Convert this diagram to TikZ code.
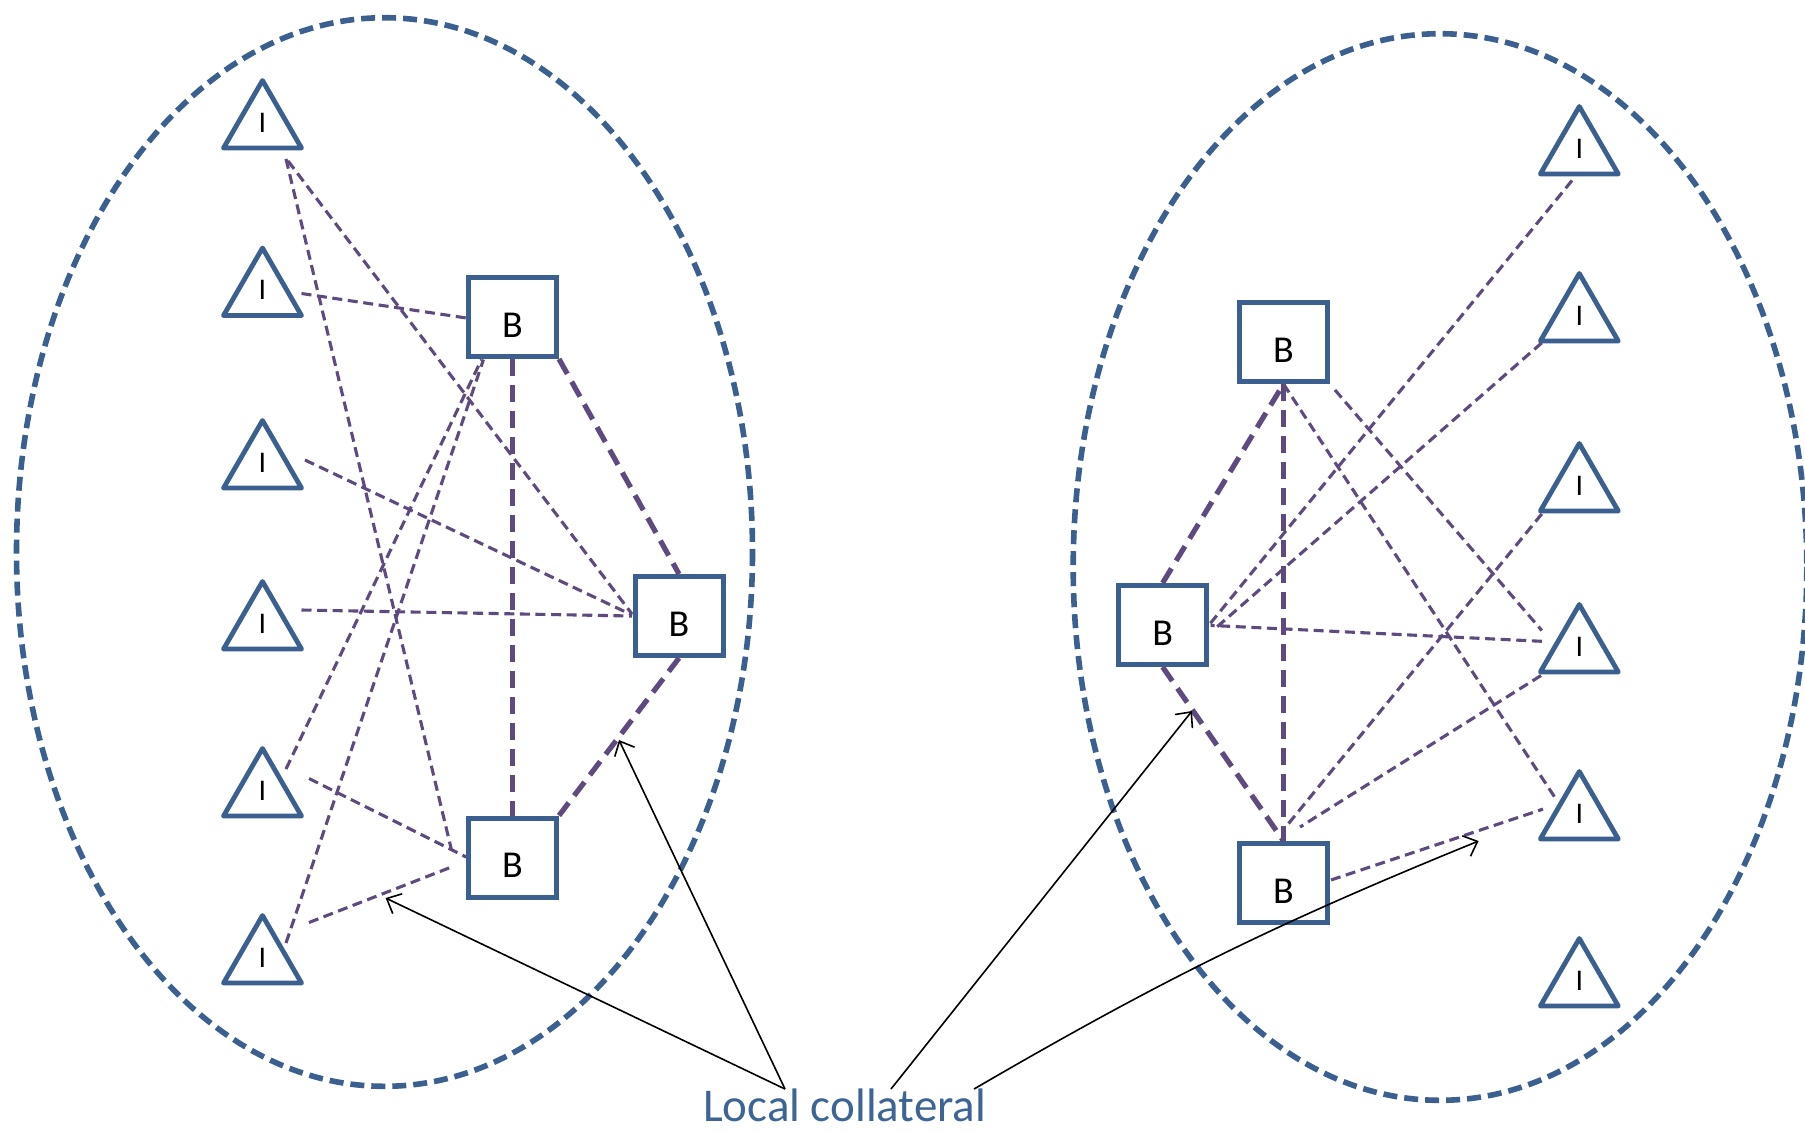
\documentclass[tikz,border=0pt]{standalone}
\usepackage{fontspec}
\setmainfont{Carlito}
\usetikzlibrary{shapes.geometric,arrows.meta}
\definecolor{shapeblue}{RGB}{59,96,143}
\definecolor{linkpurple}{RGB}{94,74,126}
\definecolor{textblue}{RGB}{62,100,150}
\begin{document}
\begin{tikzpicture}[x=0.5pt,y=-0.5pt,
  group/.style={draw=shapeblue, line width=2.8pt, dash pattern=on 7pt off 3.5pt},
  bbox/.style={draw=shapeblue, line width=2.5pt, rectangle, minimum width=44pt, minimum height=39.5pt, inner sep=0pt,
    label={[font=\fontsize{19}{19}\selectfont, yshift=-4pt]center:B}},
  tri/.style={draw=shapeblue, line width=2.4pt, line join=round, regular polygon, regular polygon sides=3, minimum size=45pt, inner sep=0pt,
    label={[font=\fontsize{15}{15}\selectfont, yshift=1.5pt]center:I}},
  link/.style={draw=linkpurple, line width=1.55pt, dash pattern=on 5pt off 2.8pt},
  strong/.style={draw=linkpurple, line width=2.6pt, dash pattern=on 8.5pt off 4.5pt},
  callout/.style={draw=black, line width=0.8pt, -{Straight Barb[length=6pt,width=11pt]}}
]
\clip (0,0) rectangle (1805,1132);
\fill[white] (0,0) rectangle (1805,1132);

% group outlines
\draw[group] (384.5,552) ellipse [x radius=368, y radius=534.3];
\draw[group] (1440,567) ellipse [x radius=366.8, y radius=533.3];

% left group
\node[tri] (l1) at (262.5,125.5) {};
\node[tri] (l2) at (262.5,293) {};
\node[tri] (l3) at (262.5,465.5) {};
\node[tri] (l4) at (262.5,626.5) {};
\node[tri] (l5) at (262.5,793.5) {};
\node[tri] (l6) at (262.5,960.5) {};
\node[bbox] (lb1) at (512.5,317) {};
\node[bbox] (lb2) at (679,616) {};
\node[bbox] (lb3) at (512.5,857.5) {};

% right group
\node[tri] (r1) at (1579.3,151.5) {};
\node[tri] (r2) at (1579.3,318.5) {};
\node[tri] (r3) at (1579.3,488.5) {};
\node[tri] (r4) at (1579.3,649.5) {};
\node[tri] (r5) at (1579.3,816.5) {};
\node[tri] (r6) at (1579.3,983.5) {};
\node[bbox] (rb1) at (1283.5,342) {};
\node[bbox] (rb2) at (1162.6,625) {};
\node[bbox] (rb3) at (1283.5,883) {};

% left thin links
\draw[link] ([shift={(23.5,33.4)}]l1.center) -- ([shift={(-61,-7.5)}]lb3.center);
\draw[link] ([shift={(25.5,35.4)}]l1.center) -- ([shift={(-47,-2)}]lb2.center);
\draw[link] ([shift={(39,0.5)}]l2.center) -- ([shift={(-46,1)}]lb1.center);
\draw[link] ([shift={(42.5,-5.5)}]l3.center) -- ([shift={(-47,-1)}]lb2.center);
\draw[link] ([shift={(39,-16.5)}]l4.center) -- ([shift={(-47,0)}]lb2.center);
\draw[link] ([shift={(23.5,-24.5)}]l5.center) -- ([shift={(-31,42.5)}]lb1.center);
\draw[link] ([shift={(46.5,-15)}]l5.center) -- ([shift={(-46.3,-0.5)}]lb3.center);
\draw[link] ([shift={(23.5,-17.5)}]l6.center) -- ([shift={(-29,42.5)}]lb1.center);
\draw[link] ([shift={(46.5,-38)}]l6.center) -- ([shift={(-58.5,8.5)}]lb3.center);

% left strong links
\draw[strong] (lb1.south) -- (lb3.north);
\draw[strong] (lb1.south east) -- (lb2.north);
\draw[strong] (lb2.south) -- (lb3.north east);

% right thin links
\draw[link] ([shift={(-7.3,29)}]r1.center) -- ([shift={(46.4,0)}]rb2.center);
\draw[link] ([shift={(-37.5,24.3)}]r2.center) -- ([shift={(52,4)}]rb2.center);
\draw[link] ([shift={(-37.5,25.4)}]r3.center) -- ([shift={(3,-57)}]rb3.center);
\draw[link] ([shift={(-38.3,26)}]r4.center) -- ([shift={(16.5,-56)}]rb3.center);
\draw[link] ([shift={(-37.5,-8.2)}]r4.center) -- ([shift={(48,0.4)}]rb2.center);
\draw[link] ([shift={(51.5,48)}]rb1.center) -- ([shift={(-37.5,-19)}]r4.center);
\draw[link] (rb1.south) -- ([shift={(-22.6,-16.3)}]r5.center);
\draw[link] ([shift={(47.5,-3)}]rb3.center) -- ([shift={(-36.3,-7.4)}]r5.center);

% right strong links
\draw[strong] (rb2.north) -- (rb1.south);
\draw[strong] (rb1.south) -- (rb3.north);
\draw[strong] (rb2.south) -- (rb3.north);

% caption and callouts
\node[anchor=base, text=textblue, font=\fontsize{23.5}{24}\selectfont, inner sep=0pt] (lc) at (844.7,1121) {Local collateral};
\coordinate (p1) at (385.6,898);
\coordinate (p2) at (619,740);
\coordinate (p3) at (1192,711);
\coordinate (p4) at (1478.6,841);
\draw[callout] ([shift={(-59.7,-32)}]lc.base) -- (p1);
\draw[callout] ([shift={(-59.7,-32)}]lc.base) -- (p2);
\draw[callout] ([shift={(46.3,-32)}]lc.base) -- (p3);
\draw[callout] ([shift={(129.3,-32)}]lc.base) to[bend left=4] (p4);
\end{tikzpicture}
\end{document}
